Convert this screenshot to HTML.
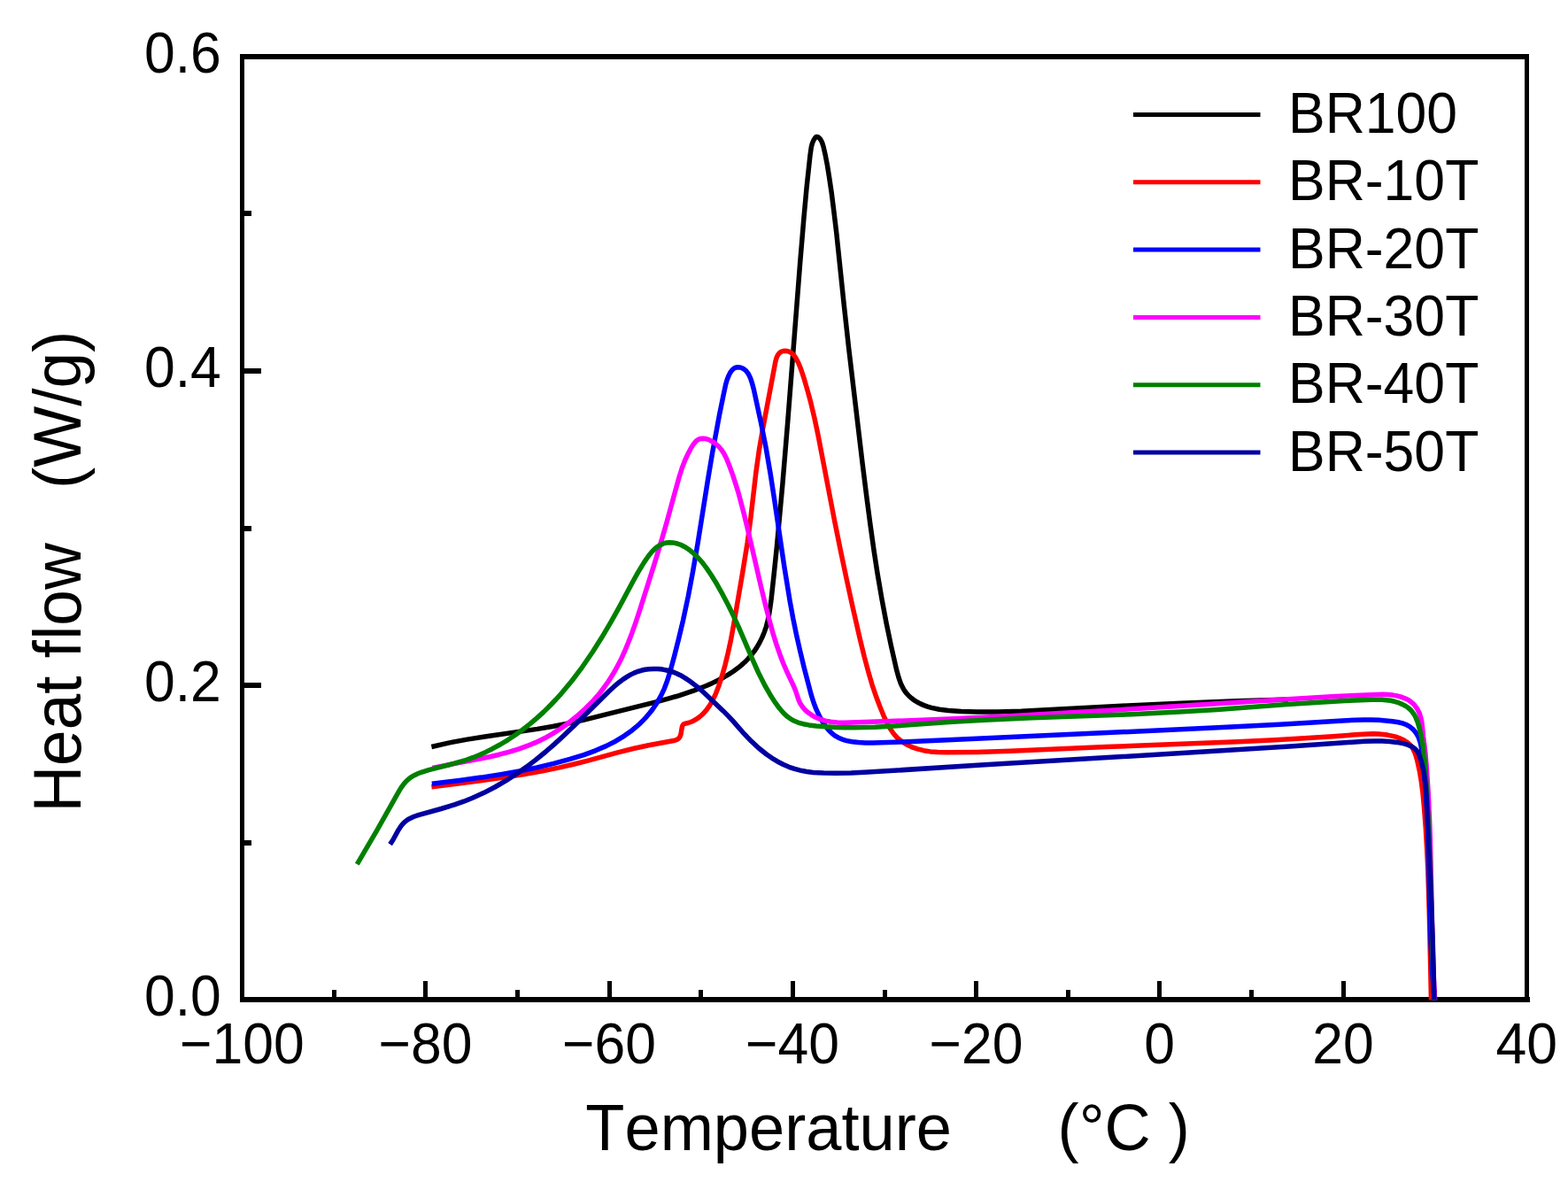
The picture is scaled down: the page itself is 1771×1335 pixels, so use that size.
<!DOCTYPE html>
<html><head><meta charset="utf-8"><title>Heat flow vs Temperature</title>
<style>html,body{margin:0;padding:0;background:#fff;}body{width:1771px;height:1335px;overflow:hidden;}svg{display:block;}</style>
</head><body>
<svg width="1771" height="1335" viewBox="0 0 1771 1335">
<rect x="0" y="0" width="1771" height="1335" fill="#ffffff"/>
<g fill="#000">
<rect x="271" y="61" width="1456" height="6"/>
<rect x="271" y="1126" width="1457" height="6"/>
<rect x="271" y="61" width="5" height="1071"/>
<rect x="1722" y="61" width="5" height="1071"/>
<rect x="375" y="1118" width="5" height="8"/>
<rect x="478" y="1108" width="5" height="18"/>
<rect x="582" y="1118" width="5" height="8"/>
<rect x="686" y="1108" width="5" height="18"/>
<rect x="789" y="1118" width="5" height="8"/>
<rect x="893" y="1108" width="5" height="18"/>
<rect x="997" y="1118" width="5" height="8"/>
<rect x="1100" y="1108" width="5" height="18"/>
<rect x="1204" y="1118" width="5" height="8"/>
<rect x="1307" y="1108" width="5" height="18"/>
<rect x="1411" y="1118" width="5" height="8"/>
<rect x="1515" y="1108" width="5" height="18"/>
<rect x="1618" y="1118" width="5" height="8"/>
<rect x="276" y="949" width="8" height="6"/>
<rect x="276" y="771" width="19" height="6"/>
<rect x="276" y="594" width="8" height="6"/>
<rect x="276" y="416" width="19" height="6"/>
<rect x="276" y="238" width="8" height="6"/>
</g>
<g style="font-kerning:none" font-family="'Liberation Sans', Arial, Helvetica, sans-serif" font-size="62.5" fill="#000">
<text transform="translate(249.8,1147.0) scale(1,1.037)" text-anchor="end">0.0</text>
<text transform="translate(249.8,792.0) scale(1,1.037)" text-anchor="end">0.2</text>
<text transform="translate(249.8,437.1) scale(1,1.037)" text-anchor="end">0.4</text>
<text transform="translate(249.8,82.0) scale(1,1.037)" text-anchor="end">0.6</text>
<text transform="translate(273.4,1200.9) scale(1,1.037)" text-anchor="middle">−100</text>
<text transform="translate(480.6,1200.9) scale(1,1.037)" text-anchor="middle">−80</text>
<text transform="translate(687.9,1200.9) scale(1,1.037)" text-anchor="middle">−60</text>
<text transform="translate(895.1,1200.9) scale(1,1.037)" text-anchor="middle">−40</text>
<text transform="translate(1102.4,1200.9) scale(1,1.037)" text-anchor="middle">−20</text>
<text transform="translate(1309.7,1200.9) scale(1,1.037)" text-anchor="middle">0</text>
<text transform="translate(1516.9,1200.9) scale(1,1.037)" text-anchor="middle">20</text>
<text transform="translate(1724.2,1200.9) scale(1,1.037)" text-anchor="middle">40</text>
</g>
<g style="font-kerning:none" font-family="'Liberation Sans', Arial, Helvetica, sans-serif" font-size="73" fill="#000">
<g font-size="72.3">
<text transform="translate(661.3,1299.0) scale(1,1.037)">Temperature</text>
<text transform="translate(1194.6,1299.0) scale(1,1.037)">(°C )</text>
</g>
<text transform="translate(90.8,917.6) rotate(-90) scale(1,1.037)">Heat flow</text>
<text transform="translate(90.8,552.0) rotate(-90) scale(1,1.037)">(W/g)</text>
</g>
<g style="font-kerning:none" font-family="'Liberation Sans', Arial, Helvetica, sans-serif" font-size="62.5" fill="#000">
<line x1="1280" y1="129.4" x2="1423.5" y2="129.4" stroke="#000000" stroke-width="5"/>
<text transform="translate(1455.0,150.0) scale(1,1.037)">BR100</text>
<line x1="1280" y1="205.7" x2="1423.5" y2="205.7" stroke="#ff0000" stroke-width="5"/>
<text transform="translate(1455.0,226.3) scale(1,1.037)">BR-10T</text>
<line x1="1280" y1="282.1" x2="1423.5" y2="282.1" stroke="#0000ff" stroke-width="5"/>
<text transform="translate(1455.0,302.7) scale(1,1.037)">BR-20T</text>
<line x1="1280" y1="358.4" x2="1423.5" y2="358.4" stroke="#ff00ff" stroke-width="5"/>
<text transform="translate(1455.0,379.0) scale(1,1.037)">BR-30T</text>
<line x1="1280" y1="434.8" x2="1423.5" y2="434.8" stroke="#008000" stroke-width="5"/>
<text transform="translate(1455.0,455.4) scale(1,1.037)">BR-40T</text>
<line x1="1280" y1="511.1" x2="1423.5" y2="511.1" stroke="#0000a0" stroke-width="5"/>
<text transform="translate(1455.0,531.7) scale(1,1.037)">BR-50T</text>
</g>
<g fill="none" stroke-width="5.5" stroke-linejoin="round" stroke-linecap="butt">
<path stroke="#000000" d="M487.4,843.5L506.5,839.1L527.7,835.1L549.3,831.7L606.9,823.4L624.1,820.5L639.5,817.5L658.6,813.3L681.5,807.7L743.8,792.1L756.3,788.7L767.0,785.6L783.2,780.2L797.8,774.5L804.7,771.4L811.3,768.2L817.4,765.0L823.1,761.6L828.3,758.2L833.0,754.8L837.3,751.4L841.3,747.8L845.1,743.9L848.4,740.1L851.7,735.9L854.7,731.4L857.9,725.9L860.7,720.1L863.2,714.2L865.4,707.8L867.1,701.2L868.6,694.2L869.8,686.4L871.1,676.9L874.3,647.4L877.5,616.3L883.8,547.8L889.7,476.6L903.6,297.8L907.9,246.6L911.1,211.5L914.9,176.2L916.3,166.3L917.4,162.0L919.0,158.2L920.8,155.5L921.6,154.7L922.6,154.4L923.6,154.6L924.6,155.3L925.7,156.3L926.9,157.8L928.6,161.1L930.0,165.5L932.2,175.2L934.4,186.5L936.6,200.2L939.1,217.0L941.8,238.3L944.7,262.5L953.2,343.7L958.5,392.0L973.9,521.7L978.7,560.2L982.9,592.1L987.0,621.3L991.1,648.0L996.0,676.6L1001.1,703.7L1006.7,730.5L1012.6,756.5L1015.1,765.5L1017.6,772.6L1020.5,778.3L1022.1,780.8L1024.0,783.2L1026.6,786.0L1029.4,788.5L1032.5,790.8L1036.0,793.0L1039.6,794.9L1043.6,796.6L1047.7,798.1L1052.0,799.4L1061.0,801.3L1071.2,802.5L1085.7,803.4L1103.3,803.9L1127.0,803.9L1153.6,803.2L1273.6,797.0L1333.9,794.2L1397.2,791.7L1455.0,790.0"/>
<path stroke="#ff0000" d="M487.4,888.8L542.4,881.7L567.0,878.3L591.8,874.5L614.1,870.5L631.9,866.9L648.6,863.0L663.1,859.3L697.8,849.8L715.3,845.5L732.6,841.8L762.3,836.2L764.2,835.5L765.9,834.6L767.0,833.5L767.9,832.2L769.0,829.2L770.4,821.0L771.0,819.4L771.9,818.2L773.2,817.4L777.1,816.5L780.2,815.5L783.1,814.2L786.1,812.5L789.2,810.4L792.1,808.0L794.8,805.4L797.5,802.4L801.5,796.8L805.1,790.5L808.6,783.1L811.9,774.4L815.6,762.9L819.1,750.7L822.2,737.9L825.3,723.7L828.8,704.7L838.8,646.3L844.2,612.6L847.6,587.3L854.0,532.3L857.5,507.7L861.4,485.2L875.8,408.8L876.7,405.3L877.8,402.3L879.1,400.1L880.5,398.5L882.2,397.3L884.4,396.5L886.7,396.3L889.2,396.6L891.4,397.2L893.0,398.0L894.5,399.0L896.0,400.4L898.8,404.2L901.7,409.8L904.6,416.9L908.5,428.7L912.2,441.4L915.8,454.8L919.9,472.1L924.1,491.9L942.5,587.7L949.4,621.9L956.2,654.3L963.6,688.0L971.0,720.4L976.3,742.1L981.0,759.6L985.0,773.3L989.2,785.7L993.7,797.8L998.4,809.2L1002.2,817.2L1005.6,823.3L1009.2,828.5L1013.0,832.9L1017.7,836.9L1023.2,840.5L1029.5,843.6L1036.2,845.9L1043.3,847.7L1050.9,848.9L1059.3,849.5L1069.8,849.7L1103.3,849.4L1141.3,848.3L1249.3,843.6L1398.0,837.7L1440.1,835.7L1477.6,833.6L1505.5,831.8L1535.4,829.4L1545.3,828.9L1551.3,828.8L1557.0,829.0L1562.2,829.5L1567.0,830.1L1571.8,831.1L1576.3,832.2L1580.3,833.6L1584.1,835.2L1586.8,836.7L1589.1,838.2L1591.2,839.9L1593.1,841.7L1594.5,843.5L1596.0,845.8L1598.3,850.8L1600.6,858.4L1603.3,870.6L1605.3,882.6L1607.0,895.6L1608.6,913.1L1610.3,935.2L1611.6,957.8L1612.8,982.3L1614.3,1029.8L1616.5,1129.4"/>
<path stroke="#0000ff" d="M487.8,885.2L518.8,881.4L543.5,878.1L565.7,874.6L586.4,871.0L606.4,866.9L625.3,862.4L643.7,857.4L659.4,852.6L672.4,847.8L684.5,842.6L695.2,837.2L705.2,831.1L714.1,824.7L718.3,821.2L722.5,817.5L726.4,813.6L730.2,809.6L733.8,805.3L737.0,801.2L742.1,793.7L746.5,785.9L750.3,777.8L753.7,768.7L757.2,757.4L761.7,740.7L766.8,720.5L771.6,700.3L777.2,674.0L782.4,646.4L788.1,613.6L799.5,542.0L804.8,510.4L812.4,469.3L817.6,443.7L819.7,434.0L821.1,429.3L822.7,425.0L824.6,421.1L826.6,418.2L828.5,416.4L830.6,415.2L833.0,414.7L835.7,414.9L837.6,415.5L839.7,416.5L841.4,417.7L842.9,419.1L844.2,420.8L845.6,422.9L847.8,427.6L849.6,433.2L851.4,440.0L859.5,477.5L865.0,505.0L870.3,536.0L874.9,565.8L885.8,639.8L892.2,679.1L895.8,698.8L899.6,717.2L903.5,734.5L908.2,754.1L916.1,784.4L919.0,793.5L921.9,801.2L925.8,809.5L929.9,816.6L934.2,822.5L936.5,825.2L939.0,827.6L942.9,830.8L947.0,833.2L951.3,835.1L956.3,836.6L962.5,837.7L969.7,838.5L977.4,838.9L986.4,839.0L1019.3,837.9L1069.9,835.8L1375.5,821.8L1445.1,818.2L1516.6,813.9L1531.1,813.2L1540.4,813.0L1549.1,813.0L1557.4,813.3L1565.1,813.9L1572.8,814.7L1579.4,815.8L1584.1,816.9L1588.3,818.5L1590.7,819.7L1592.7,821.0L1596.4,824.2L1598.2,826.3L1599.8,828.5L1601.2,830.9L1602.4,833.4L1604.1,838.3L1605.3,844.0L1606.3,850.9L1607.9,864.7L1610.2,891.7L1612.0,921.4L1613.3,956.4L1614.9,1031.5L1616.0,1064.0L1617.8,1098.7L1618.9,1114.3L1620.3,1129.5"/>
<path stroke="#ff00ff" d="M488.4,867.5L502.5,864.6L541.6,857.1L553.2,854.7L563.8,852.2L575.5,849.1L586.2,845.8L596.2,842.2L605.5,838.4L615.0,833.8L624.2,828.6L633.4,822.7L642.8,815.9L652.4,808.2L661.1,800.2L669.3,792.1L676.7,783.7L682.1,776.7L687.2,769.5L692.1,761.8L696.7,753.7L701.2,745.1L705.5,735.7L709.6,725.8L713.8,714.9L717.9,703.3L722.6,689.2L738.8,637.8L746.1,613.9L752.6,591.5L766.8,539.7L770.1,529.2L773.6,520.0L776.7,513.3L780.0,506.9L783.1,501.9L785.7,498.7L788.2,496.7L790.7,495.5L793.9,495.2L797.3,495.6L799.5,496.3L802.0,497.3L806.8,500.0L811.0,503.5L814.7,507.7L817.8,512.4L820.6,517.9L823.6,525.5L827.5,536.1L830.6,545.7L833.8,555.9L839.9,578.8L845.5,601.8L860.2,665.5L864.5,683.2L868.6,699.1L872.9,714.7L876.8,727.4L880.7,738.7L884.6,749.0L888.3,757.6L896.4,774.9L898.7,780.5L902.1,790.7L903.4,793.6L905.0,796.3L906.8,798.9L908.9,801.3L911.1,803.4L913.8,805.6L916.7,807.6L919.7,809.4L926.0,812.2L932.0,814.1L938.4,815.3L945.6,816.0L954.1,816.2L1005.5,814.6L1072.2,811.9L1135.6,808.9L1201.7,805.3L1267.6,801.4L1450.3,789.9L1508.6,786.6L1555.5,784.4L1562.1,784.3L1567.8,784.5L1573.1,785.1L1577.8,785.9L1582.5,787.2L1586.8,788.8L1590.6,790.6L1593.7,792.8L1595.7,794.4L1597.6,796.4L1600.8,800.7L1603.3,805.8L1604.9,811.2L1605.7,814.9L1606.3,819.3L1607.5,831.3L1609.8,849.8L1611.0,863.6L1613.2,895.8L1614.8,931.4L1615.9,968.4L1618.1,1070.1L1619.2,1101.4L1620.6,1129.5"/>
<path stroke="#008000" d="M403.3,976.2L426.0,937.3L450.9,893.1L453.5,889.0L456.2,885.4L458.9,882.3L461.7,879.7L464.6,877.6L467.9,875.7L471.4,874.0L475.7,872.3L484.3,869.6L513.3,862.2L526.7,858.3L534.0,855.7L541.3,852.8L548.7,849.4L556.1,845.7L564.8,841.0L573.4,835.8L581.8,830.2L590.2,824.2L598.3,817.9L606.3,811.1L614.0,804.1L621.7,796.5L627.9,790.0L634.0,783.3L645.9,769.0L657.7,753.3L669.4,736.3L679.8,719.8L690.4,701.8L699.6,685.3L714.6,657.3L720.8,646.2L727.5,635.1L732.6,627.7L735.9,623.6L739.3,620.1L742.5,617.5L745.9,615.4L749.2,613.9L752.8,613.0L756.2,612.7L760.1,612.9L765.0,614.0L769.7,615.7L774.1,618.0L778.7,621.1L783.6,625.2L788.5,630.0L793.3,635.4L798.0,641.6L803.5,649.8L810.0,660.3L816.2,671.4L822.4,683.3L828.3,695.3L834.2,708.2L850.5,746.2L856.5,759.5L863.8,774.0L871.2,786.8L875.9,793.9L880.2,799.8L884.4,804.7L888.6,808.7L892.8,811.9L897.1,814.3L902.0,816.3L907.4,817.7L913.6,818.9L922.0,819.9L932.6,820.8L943.4,821.4L954.0,821.7L964.8,821.8L988.4,821.2L1013.7,819.7L1075.6,815.3L1116.7,812.9L1165.6,810.8L1278.3,806.7L1331.7,804.1L1374.6,801.4L1453.9,795.6L1485.6,793.4L1518.7,791.5L1548.7,790.3L1555.5,790.2L1560.9,790.3L1565.8,790.7L1570.5,791.3L1575.1,792.3L1579.7,793.7L1583.7,795.4L1587.2,797.2L1589.7,798.8L1591.8,800.5L1593.7,802.3L1595.3,804.3L1597.0,806.7L1598.5,809.2L1601.1,815.3L1603.4,823.2L1605.7,833.7L1607.5,844.8L1608.9,857.1L1610.2,873.3L1611.9,901.9L1613.5,931.8L1614.8,963.5L1616.9,1027.7L1619.5,1129.5"/>
<path stroke="#0000a0" d="M440.6,953.6L443.8,948.8L450.0,937.4L452.9,933.0L455.0,930.4L457.2,928.3L459.6,926.4L462.4,924.7L467.0,922.5L472.4,920.6L498.1,913.5L513.2,908.9L523.8,905.2L533.6,901.3L546.2,895.6L558.9,889.0L571.6,881.6L584.2,873.5L594.7,866.1L605.2,858.1L615.8,849.5L626.6,840.1L636.8,830.8L648.1,820.0L687.3,781.2L693.6,775.4L699.2,770.7L703.6,767.4L707.8,764.6L712.0,762.1L716.1,760.1L720.1,758.5L724.2,757.3L728.5,756.3L732.8,755.7L738.0,755.4L743.3,755.5L748.5,756.1L754.0,757.2L759.0,758.6L763.9,760.5L768.6,762.7L773.5,765.6L779.0,769.3L786.1,774.6L790.9,778.5L796.1,783.2L816.8,802.9L822.5,808.6L827.9,814.4L840.4,828.7L848.2,836.8L857.0,845.0L865.8,852.0L872.0,856.3L878.4,860.2L884.8,863.5L891.2,866.3L897.5,868.4L904.0,870.1L911.1,871.5L918.5,872.4L930.1,873.1L944.5,873.3L961.2,873.0L980.6,872.1L1108.1,864.1L1384.0,847.6L1456.7,842.9L1541.5,837.3L1552.1,836.9L1561.2,837.0L1569.8,837.5L1577.8,838.4L1585.7,839.9L1588.8,840.8L1591.7,841.9L1594.3,843.1L1596.7,844.6L1598.6,846.2L1600.3,848.0L1601.5,849.8L1602.7,852.1L1605.1,859.2L1607.3,868.0L1609.0,877.6L1610.3,888.5L1611.2,901.8L1615.8,999.7L1618.4,1069.2L1619.9,1129.4"/>
</g>
</svg>
</body></html>
